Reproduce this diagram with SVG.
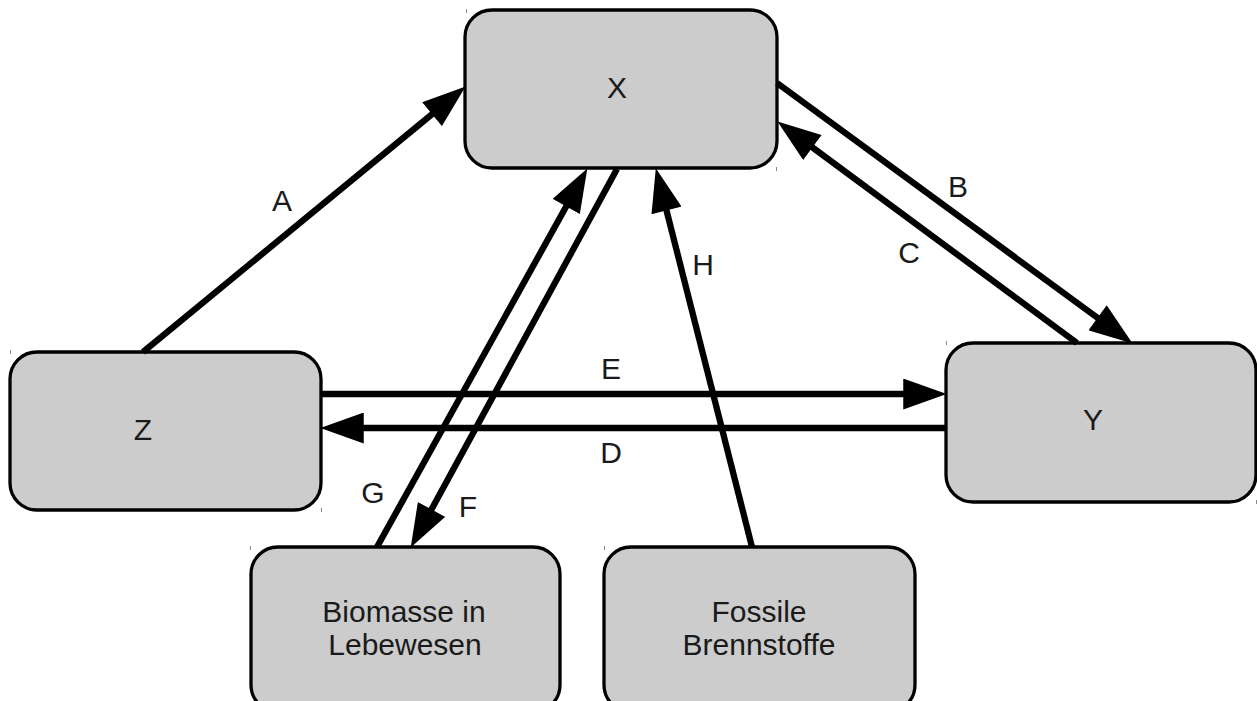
<svg xmlns="http://www.w3.org/2000/svg" width="1257" height="701" viewBox="0 0 1257 701">
  <style>
    .box { fill: #cccccc; stroke: #000000; stroke-width: 3.3; }
    .lbl { font-family: "Liberation Sans", Arial, sans-serif; font-size: 30px; fill: #1a1a1a; text-anchor: middle; }
    .conn { stroke: #000000; stroke-width: 6.3; fill: none; marker-end: url(#arrow); }
    .tick { stroke: #888888; stroke-width: 1; }
  </style>
  <defs>
    <marker id="arrow" markerUnits="userSpaceOnUse" markerWidth="44" markerHeight="31" viewBox="0 0 42 30" refX="22" refY="15" orient="auto">
      <path d="M0,0 L42,15 L0,30 Z" fill="#000000"/>
    </marker>
  </defs>
  <rect width="1257" height="701" fill="#ffffff"/>

  <g id="node-x">
    <rect class="box" x="465" y="10" width="312" height="158" rx="27" ry="27"/>
    <text class="lbl" x="617" y="98">X</text>
  </g>
  <g id="node-z">
    <rect class="box" x="10" y="352" width="311" height="158" rx="27" ry="27"/>
    <text class="lbl" x="143" y="440">Z</text>
  </g>
  <g id="node-y">
    <rect class="box" x="946" y="343" width="310" height="159" rx="27" ry="27"/>
    <text class="lbl" x="1093" y="430">Y</text>
  </g>
  <g id="node-biomasse">
    <rect class="box" x="251" y="547" width="309" height="165" rx="27" ry="27"/>
    <text class="lbl" x="404" y="622">Biomasse in</text>
    <text class="lbl" x="405" y="655">Lebewesen</text>
  </g>
  <g id="node-fossile">
    <rect class="box" x="604" y="547" width="311" height="165" rx="27" ry="27"/>
    <text class="lbl" x="759" y="622">Fossile</text>
    <text class="lbl" x="759" y="655">Brennstoffe</text>
  </g>

  <g id="connectors">
    <line class="conn" x1="143" y1="352" x2="449.6" y2="99.7"/>
    <line class="conn" x1="777" y1="83" x2="1115.9" y2="331.2"/>
    <line class="conn" x1="1077" y1="343" x2="794.1" y2="133.9"/>
    <line class="conn" x1="321" y1="394" x2="926" y2="394"/>
    <line class="conn" x1="946" y1="428" x2="341" y2="428"/>
    <line class="conn" x1="377" y1="547" x2="577.3" y2="186.5"/>
    <line class="conn" x1="617" y1="169" x2="420.6" y2="529.4"/>
    <line class="conn" x1="752" y1="547" x2="660.9" y2="188.4"/>
  </g>

  <g id="connector-labels">
    <text class="lbl" x="282" y="211">A</text>
    <text class="lbl" x="958" y="197">B</text>
    <text class="lbl" x="909" y="263">C</text>
    <text class="lbl" x="611" y="463">D</text>
    <text class="lbl" x="611" y="379">E</text>
    <text class="lbl" x="468" y="517">F</text>
    <text class="lbl" x="373" y="503">G</text>
    <text class="lbl" x="703" y="275">H</text>
  </g>

  <g id="corner-ticks">
    <line class="tick" x1="466.5" y1="9" x2="466.5" y2="13"/>
    <line class="tick" x1="776.5" y1="167" x2="776.5" y2="171"/>
    <line class="tick" x1="10.5" y1="350" x2="10.5" y2="354"/>
    <line class="tick" x1="321.5" y1="508" x2="321.5" y2="512"/>
    <line class="tick" x1="946.5" y1="341" x2="946.5" y2="345"/>
    <line class="tick" x1="1256.5" y1="500" x2="1256.5" y2="504"/>
    <line class="tick" x1="250.5" y1="546" x2="250.5" y2="550"/>
    <line class="tick" x1="604.5" y1="546" x2="604.5" y2="550"/>
  </g>
</svg>
